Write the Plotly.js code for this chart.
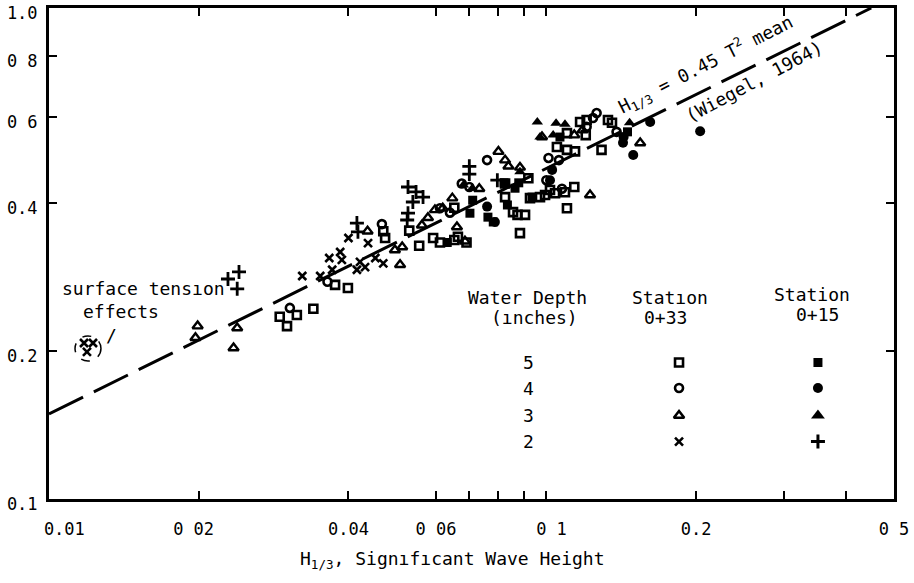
<!DOCTYPE html>
<html>
<head>
<meta charset="utf-8">
<script src="https://cdn.plot.ly/plotly-3.0.1.min.js"></script>
<style>html,body{margin:0;padding:0;background:#fff;}#chart{width:914px;height:583px;}</style>
</head>
<body>
<div id="chart"></div>
<script>
// ---------------- DATA ----------------
// Station 0+33, depth 5 in (open squares)
const sq33_x = [0.0291,0.0315,0.0301,0.0340,0.0376,0.0399,0.0474,0.0470,0.0530,0.0555,0.0592,0.0611,0.0653,0.0664,0.0691,0.0885,0.0875,0.0906,0.0927,0.0994,0.1041,0.1090,0.1138,0.1100,0.1050,0.1100,0.1142,0.1200,0.1291,0.1330,0.1355,0.1169,0.1205,0.1100,0.0826,0.0920,0.0653,0.0826,0.0857,0.0971,0.1017];
const sq33_y = [0.235,0.237,0.225,0.244,0.273,0.269,0.340,0.351,0.352,0.328,0.340,0.333,0.337,0.342,0.333,0.348,0.379,0.379,0.410,0.416,0.4195,0.4215,0.432,0.391,0.521,0.514,0.5105,0.551,0.514,0.5915,0.584,0.586,0.5915,0.556,0.439,0.450,0.392,0.412,0.384,0.412,0.426];
// Station 0+33, depth 4 in (open circles)
const ci33_x = [0.0305,0.0363,0.0467,0.0611,0.0640,0.0676,0.0700,0.0760,0.1010,0.1060,0.1241,0.1262,0.1205,0.1384,0.1000,0.1075];
const ci33_y = [0.245,0.277,0.363,0.391,0.383,0.439,0.432,0.490,0.495,0.490,0.597,0.611,0.573,0.5595,0.446,0.4285];
// Station 0+33, depth 3 in (open triangles)
const tr33_x = [0.0199,0.0197,0.0239,0.0235,0.0437,0.0496,0.0513,0.0508,0.0562,0.0578,0.0597,0.0619,0.0647,0.0661,0.0686,0.0733,0.0801,0.0826,0.0839,0.0885,0.1182,0.1138,0.1224,0.1544,0.0980];
const tr33_y = [0.225,0.213,0.223,0.203,0.351,0.3215,0.326,0.300,0.361,0.374,0.388,0.391,0.410,0.358,0.335,0.4285,0.510,0.490,0.476,0.4735,0.564,0.551,0.416,0.531,0.546];
// Station 0+33, depth 2 in (x)
const x33_x = [0.01176,0.01226,0.01192,0.0323,0.0351,0.0366,0.0385,0.0388,0.0371,0.0416,0.0422,0.0432,0.0453,0.0470,0.0400,0.0438];
const x33_y = [0.2078,0.2078,0.1993,0.2846,0.2846,0.3096,0.3185,0.307,0.293,0.293,0.304,0.2966,0.3096,0.302,0.340,0.332];
// Station 0+15, depth 5 in (filled squares)
const sq15_x = [0.0632,0.0782,0.0763,0.0835,0.0936,0.0880,0.0822,0.1065,0.1456,0.0711,0.0865,0.0702];
const sq15_y = [0.333,0.3666,0.375,0.397,0.412,0.4405,0.4405,0.546,0.5595,0.406,0.4295,0.382];
// Station 0+15, depth 4 in (filled circles)
const ci15_x = [0.2038,0.1617,0.1426,0.1495,0.1430,0.1017,0.1027,0.0788,0.0760];
const ci15_y = [0.561,0.586,0.5315,0.502,0.546,0.446,0.468,0.3666,0.394];
// Station 0+15, depth 3 in (filled triangles)
const tr15_x = [0.1470,0.0971,0.1032,0.0681,0.0710,0.0885,0.0959,0.1046,0.1090];
const tr15_y = [0.584,0.546,0.551,0.436,0.4295,0.464,0.586,0.5825,0.580];
// Station 0+15, depth 2 in (+)
const pl15_x = [0.0229,0.0241,0.0239,0.0416,0.0418,0.0527,0.0547,0.0565,0.0539,0.0527,0.0525,0.0700,0.0700,0.0797];
const pl15_y = [0.2806,0.290,0.268,0.3648,0.350,0.432,0.422,0.412,0.4026,0.382,0.370,0.476,0.459,0.446];
// Wiegel (1964) curve end points: H1/3 = 0.45 T^2
const wiegel_x = [0.01, 0.45];
const wiegel_y = [0.149, 1.0];

// Tick values / labels
const xTickVals = [0.01,0.02,0.04,0.06,0.1,0.2,0.5];
const xTickText = ["\u00a0\u00a0\u00a00.01","0 02\u00a0","0.04","0 06","\u00a00 1","0.2","0 5"];
const xMinorTickVals = [0.07,0.08,0.09,0.3,0.4];
const yTickVals = [0.1,0.2,0.4,0.6,0.8,1.0];
const yTickText = ["0.1","0.2","0.4","0 6","0 8","1.0"];

// Legend table
const depths = ["5","4","3","2"];
const sym33 = ["square-open","circle-open","triangle-up-open","x-thin-open"];
const sym15 = ["square","circle","triangle-up","cross-thin-open"];

// ---------------- LAYOUT CONSTANTS ----------------
const FONT = "DejaVu Sans Mono, monospace";
const TXT = 18;
const legendRowY = [0.278, 0.226, 0.170, 0.117];
const legendCol33 = 0.7456, legendCol15 = 0.910, legendDepthX = 0.567;

function mk(x, y, symbol, size, lw) {
  return {x: x, y: y, type: 'scatter', mode: 'markers', showlegend: false, hoverinfo: 'skip',
    marker: {symbol: symbol, size: size, color: '#000', line: {color: '#000', width: lw}}};
}

const traces = [
  {x: wiegel_x, y: wiegel_y, type: 'scatter', mode: 'lines', showlegend: false, hoverinfo: 'skip',
   line: {color: '#000', width: 3, dash: '38px,12px'}},
  mk(sq33_x, sq33_y, 'square-open', 8, 2.6),
  mk(ci33_x, ci33_y, 'circle-open', 8, 2.6),
  mk(tr33_x, tr33_y, 'triangle-up-open', 9, 2.4),
  mk(x33_x, x33_y, 'x-thin-open', 8, 2.6),
  mk(sq15_x, sq15_y, 'square', 9, 0),
  mk(ci15_x, ci15_y, 'circle', 10, 0),
  mk(tr15_x, tr15_y, 'triangle-up', 10, 0),
  mk(pl15_x, pl15_y, 'cross-thin-open', 10, 2.8)
];

// legend keys on an overlay axis (0..1)
const key33Size = [8, 8, 9, 8], key15Size = [9, 10, 12, 10];
depths.forEach(function(d, i) {
  traces.push(Object.assign(mk([legendCol33], [legendRowY[i]], sym33[i], key33Size[i], 2.6), {xaxis: 'x2', yaxis: 'y2'}));
  traces.push(Object.assign(mk([legendCol15], [legendRowY[i]], sym15[i], key15Size[i], i === 3 ? 3 : 0), {xaxis: 'x2', yaxis: 'y2'}));
});

const annotations = [
  {text: "H<sub>1/3</sub> = 0.45 T<sup>2</sup> mean", x: 0.777, y: 0.886, textangle: -27},
  {text: "(Wiegel, 1964)", x: 0.834, y: 0.851, textangle: -28},
  {text: "surface tens\u0131on", x: 0.1124, y: 0.4277},
  {text: "effects", x: 0.0852, y: 0.381},
  {text: "/", x: 0.0734, y: 0.332},
  {text: "Water Depth", x: 0.566, y: 0.411},
  {text: "(\u0131nches)", x: 0.575, y: 0.369},
  {text: "Stat\u0131on", x: 0.735, y: 0.411},
  {text: "0+33", x: 0.730, y: 0.369},
  {text: "Station", x: 0.903, y: 0.4155},
  {text: "0+15", x: 0.910, y: 0.375},
  {text: "H<sub>1/3</sub>, Sign\u0131f\u0131cant Wave Height", x: 0.478, y: -0.124}
].map(function(a) {
  return Object.assign({xref: 'paper', yref: 'paper', showarrow: false, xanchor: 'center', yanchor: 'middle',
    font: {family: FONT, size: TXT, color: '#000'}}, a);
});
depths.forEach(function(d, i) {
  annotations.push({text: d, x: legendDepthX, y: legendRowY[i], xref: 'paper', yref: 'paper', showarrow: false,
    xanchor: 'center', yanchor: 'middle', font: {family: FONT, size: TXT, color: '#000'}});
});

const axisCommon = {
  type: 'log', showgrid: false, zeroline: false, showline: true, linecolor: '#000', linewidth: 3,
  mirror: 'ticks', ticks: 'inside', ticklen: 8, tickwidth: 2, tickcolor: '#000',
  tickfont: {family: FONT, size: 17, color: '#000'}, tickmode: 'array', ticklabeloverflow: 'allow'
};

const layout = {
  width: 914, height: 583,
  margin: {l: 49, r: 20, t: 8, b: 84},
  paper_bgcolor: '#fff', plot_bgcolor: '#fff',
  showlegend: false,
  xaxis: Object.assign({}, axisCommon, {range: [-2, Math.log10(0.5)], tickvals: xTickVals, ticktext: xTickText, ticklabelstandoff: 13,
    minor: {tickmode: 'array', tickvals: xMinorTickVals, ticks: 'inside', ticklen: 8, tickwidth: 2, tickcolor: '#000', showgrid: false}}),
  yaxis: Object.assign({}, axisCommon, {range: [-1, 0], tickvals: yTickVals, ticktext: yTickText, ticklabelstandoff: 5, ticklabelshift: 5}),
  xaxis2: {overlaying: 'x', range: [0, 1], visible: false, fixedrange: true},
  yaxis2: {overlaying: 'y', range: [0, 1], visible: false, fixedrange: true},
  annotations: annotations,
  shapes: [
    {type: 'circle', xref: 'paper', yref: 'paper', x0: 0.0308, x1: 0.0615, y0: 0.281, y1: 0.332,
     line: {color: '#000', width: 1.5, dash: 'dash'}}
  ]
};

Plotly.newPlot('chart', traces, layout, {staticPlot: true, displayModeBar: false});
</script>
</body>
</html>
